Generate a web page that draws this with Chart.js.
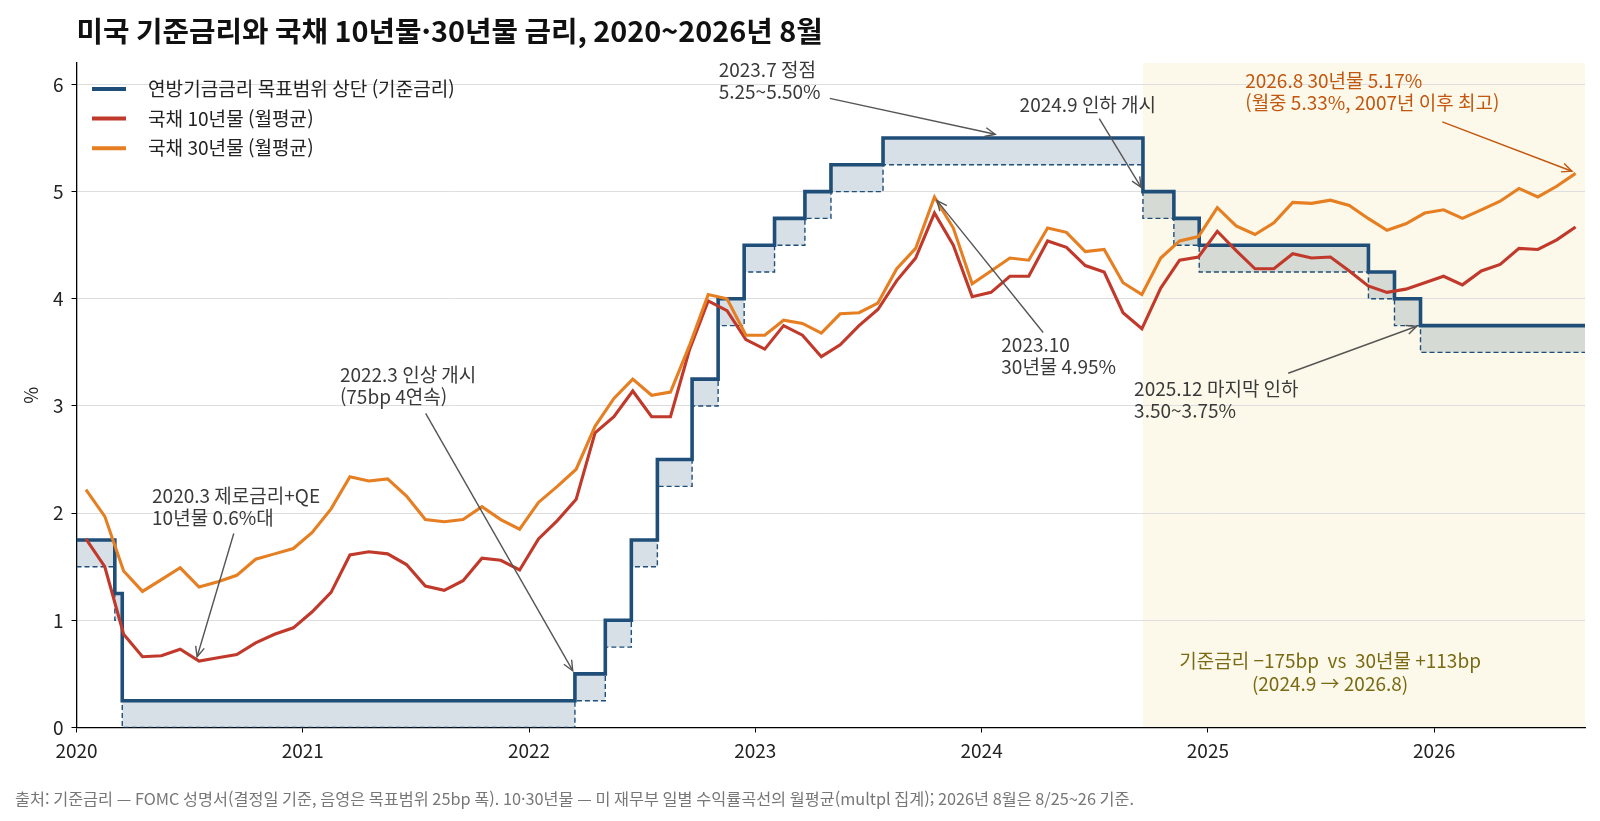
<!DOCTYPE html>
<html lang="ko">
<head>
<meta charset="utf-8">
<title>미국 기준금리와 국채 10년물·30년물 금리</title>
<script src="https://cdn.jsdelivr.net/npm/chart.js@4.4.1/dist/chart.umd.min.js"></script>
<style>
  html, body { margin: 0; padding: 0; background: #fff; }
  #wrap { width: 1600px; height: 821px; }
</style>
</head>
<body>
<div id="wrap"><canvas id="myChart" width="1600" height="821"></canvas></div>
<script>
// FOMC 결정일과 목표범위 상단
const fedDates = ['2020-01-01', '2020-03-03', '2020-03-15', '2022-03-16', '2022-05-04', '2022-06-15',
    '2022-07-27', '2022-09-21', '2022-11-02', '2022-12-14', '2023-02-01', '2023-03-22', '2023-05-03',
    '2023-07-26', '2024-09-18', '2024-11-07', '2024-12-18', '2025-09-17', '2025-10-29', '2025-12-10'];
const fedUpper = [1.75, 1.25, 0.25, 0.50, 1.00, 1.75, 2.50, 3.25, 4.00, 4.50, 4.75, 5.00, 5.25,
    5.50, 5.00, 4.75, 4.50, 4.25, 4.00, 3.75];

// 월평균 (2020.1 ~ 2026.8)
const firstMonth = '2020-01';
const t10 = [
    1.76, 1.50, 0.87, 0.66, 0.67, 0.73, 0.62, 0.65, 0.68, 0.79, 0.87, 0.93,
    1.08, 1.26, 1.61, 1.64, 1.62, 1.52, 1.32, 1.28, 1.37, 1.58, 1.56, 1.47,
    1.76, 1.93, 2.13, 2.75, 2.90, 3.14, 2.90, 2.90, 3.52, 3.98, 3.89, 3.62,
    3.53, 3.75, 3.66, 3.46, 3.57, 3.75, 3.90, 4.17, 4.38, 4.80, 4.50, 4.02,
    4.06, 4.21, 4.21, 4.54, 4.48, 4.31, 4.25, 3.87, 3.72, 4.10, 4.36, 4.39,
    4.63, 4.45, 4.28, 4.28, 4.42, 4.38, 4.39, 4.26, 4.12, 4.06, 4.09, 4.15,
    4.21, 4.13, 4.26, 4.32, 4.47, 4.46, 4.55, 4.67
];
const t30 = [
    2.22, 1.97, 1.46, 1.27, 1.38, 1.49, 1.31, 1.36, 1.42, 1.57, 1.62, 1.67,
    1.82, 2.04, 2.34, 2.30, 2.32, 2.16, 1.94, 1.92, 1.94, 2.06, 1.94, 1.85,
    2.10, 2.25, 2.41, 2.81, 3.07, 3.25, 3.10, 3.13, 3.56, 4.04, 4.00, 3.66,
    3.66, 3.80, 3.77, 3.68, 3.86, 3.87, 3.96, 4.28, 4.47, 4.95, 4.66, 4.14,
    4.26, 4.38, 4.36, 4.66, 4.62, 4.44, 4.46, 4.15, 4.04, 4.38, 4.54, 4.58,
    4.85, 4.68, 4.60, 4.71, 4.90, 4.89, 4.92, 4.87, 4.75, 4.64, 4.70, 4.80,
    4.83, 4.75, 4.83, 4.91, 5.03, 4.95, 5.05, 5.17
];

const xMin = 2020, xMax = 2026 + 8 / 12;
const yearTicks = [2020, 2021, 2022, 2023, 2024, 2025, 2026];
const yTicks = [0, 1, 2, 3, 4, 5, 6];
const cutStart = '2024-09-18';

const BLUE = '#1f4e79', RED = '#c0392b', ORANGE = '#e67e22';
const FONT = "'Noto Sans CJK KR', 'Noto Sans', sans-serif";

function decYear(s) {
    const d = new Date(s + 'T00:00:00Z');
    const y = d.getUTCFullYear();
    const start = Date.UTC(y, 0, 1), end = Date.UTC(y + 1, 0, 1);
    return y + (d.getTime() - start) / (end - start);
}

const y0 = parseInt(firstMonth.slice(0, 4)), m0 = parseInt(firstMonth.slice(5)) - 1;
const monthX = t10.map((v, i) => y0 + (m0 + i + 0.5) / 12);

const upperPts = fedDates.map((d, i) => ({ x: decYear(d), y: fedUpper[i] }));
upperPts.push({ x: xMax, y: fedUpper[fedUpper.length - 1] });
const lowerPts = upperPts.map(p => ({ x: p.x, y: Math.max(0, p.y - 0.25) }));

// 주석 (데이터 좌표)
const notes = [
    { lines: ['2020.3 제로금리+QE', '10년물 0.6%대'], at: [2020.334, 2.16], from: [2020.695, 1.81], to: [2020.533, 0.66] },
    { lines: ['2022.3 인상 개시', '(75bp 4연속)'], at: [2021.164, 3.29], from: [2021.543, 2.93], to: [2022.193, 0.53] },
    { lines: ['2023.7 정점', '5.25~5.50%'], at: [2022.838, 6.135], from: [2023.329, 5.87], to: [2024.06, 5.535] },
    { lines: ['2024.9 인하 개시'], at: [2024.168, 5.81], from: [2024.52, 5.68], to: [2024.705, 5.04] },
    { lines: ['2023.10', '30년물 4.95%'], at: [2024.087, 3.57], from: [2024.272, 3.686], to: [2023.803, 4.916] },
    { lines: ['2025.12 마지막 인하', '3.50~3.75%'], at: [2024.674, 3.16], from: [2025.355, 3.305], to: [2025.923, 3.744] },
    { lines: ['2026.8 30년물 5.17%', '(월중 5.33%, 2007년 이후 최고)'], at: [2025.165, 6.03], from: [2026.036, 5.65], to: [2026.609, 5.19], color: '#c2570f' }
];

function arrow(ctx, x1, y1, x2, y2, color) {
    ctx.save();
    ctx.strokeStyle = color;
    ctx.lineWidth = 1.4;
    ctx.beginPath();
    ctx.moveTo(x1, y1);
    ctx.lineTo(x2, y2);
    ctx.stroke();
    const a = Math.atan2(y2 - y1, x2 - x1), L = 11, w = 0.42;
    ctx.beginPath();
    ctx.moveTo(x2 - L * Math.cos(a - w), y2 - L * Math.sin(a - w));
    ctx.lineTo(x2, y2);
    ctx.lineTo(x2 - L * Math.cos(a + w), y2 - L * Math.sin(a + w));
    ctx.stroke();
    ctx.restore();
}

const decor = {
    id: 'decor',
    beforeDraw(chart) {
        const { ctx, chartArea, scales } = chart;
        const x1 = scales.x.getPixelForValue(decYear(cutStart));
        ctx.save();
        ctx.fillStyle = '#fdf9ea';
        ctx.fillRect(x1, chartArea.top, chartArea.right - x1, chartArea.bottom - chartArea.top);
        ctx.restore();
    },
    afterDraw(chart) {
        const { ctx, chartArea, scales } = chart;
        const px = v => scales.x.getPixelForValue(v);
        const py = v => scales.y.getPixelForValue(v);
        ctx.save();

        // 제목
        ctx.fillStyle = '#111';
        ctx.font = 'bold 28.8px ' + FONT;
        ctx.textBaseline = 'middle';
        ctx.textAlign = 'left';
        ctx.fillText('미국 기준금리와 국채 10년물·30년물 금리, 2020~2026년 8월', chartArea.left, 31);

        // y축 제목
        ctx.save();
        ctx.translate(31, (chartArea.top + chartArea.bottom) / 2);
        ctx.rotate(-Math.PI / 2);
        ctx.textAlign = 'center';
        ctx.font = '18.5px ' + FONT;
        ctx.fillStyle = '#222';
        ctx.fillText('%', 0, 0);
        ctx.restore();

        // 범례
        const legend = [
            ['연방기금금리 목표범위 상단 (기준금리)', BLUE],
            ['국채 10년물 (월평균)', RED],
            ['국채 30년물 (월평균)', ORANGE]
        ];
        ctx.font = '19.1px ' + FONT;
        legend.forEach(([label, color], i) => {
            const yy = 89 + i * 29.6;
            ctx.strokeStyle = color;
            ctx.lineWidth = 4;
            ctx.beginPath();
            ctx.moveTo(92, yy);
            ctx.lineTo(126, yy);
            ctx.stroke();
            ctx.fillStyle = '#222';
            ctx.fillText(label, 148, yy);
        });

        // 주석
        ctx.font = '19px ' + FONT;
        notes.forEach(n => {
            const c = n.color || '#3a3a3a';
            ctx.fillStyle = c;
            ctx.textAlign = 'left';
            n.lines.forEach((t, i) => ctx.fillText(t, px(n.at[0]), py(n.at[1]) + i * 22));
            arrow(ctx, px(n.from[0]), py(n.from[1]), px(n.to[0]), py(n.to[1]), n.color || '#555');
        });

        ctx.fillStyle = '#7a6a14';
        ctx.textAlign = 'center';
        ctx.fillText('기준금리 −175bp  vs  30년물 +113bp', px(2025.54), py(0.62));
        ctx.fillText('(2024.9 → 2026.8)', px(2025.54), py(0.62) + 22.5);

        // 출처
        ctx.textAlign = 'left';
        ctx.fillStyle = '#777';
        ctx.font = '16.3px ' + FONT;
        ctx.fillText('출처: 기준금리 — FOMC 성명서(결정일 기준, 음영은 목표범위 25bp 폭). 10·30년물 — 미 재무부 일별 수익률곡선의 월평균(multpl 집계); 2026년 8월은 8/25~26 기준.', 15, 799);
        ctx.restore();
    }
};

Chart.defaults.font.family = FONT;
Chart.defaults.color = '#222';

const ctx = document.getElementById('myChart').getContext('2d');
const myChart = new Chart(ctx, {
    type: 'line',
    data: {
        datasets: [
            {
                label: '연방기금금리 목표범위 상단 (기준금리)',
                data: upperPts,
                stepped: true,
                borderColor: BLUE,
                borderWidth: 3.6,
                pointRadius: 0,
                fill: false,
                order: 3
            },
            {
                label: '하단',
                data: lowerPts,
                stepped: true,
                borderColor: BLUE,
                borderWidth: 1.4,
                borderDash: [5, 3],
                pointRadius: 0,
                backgroundColor: 'rgba(31, 78, 121, 0.18)',
                fill: '-1',
                order: 4
            },
            {
                label: '국채 10년물 (월평균)',
                data: monthX.map((x, i) => ({ x: x, y: t10[i] })),
                borderColor: RED,
                borderWidth: 3.1,
                pointRadius: 0,
                fill: false,
                order: 2
            },
            {
                label: '국채 30년물 (월평균)',
                data: monthX.map((x, i) => ({ x: x, y: t30[i] })),
                borderColor: ORANGE,
                borderWidth: 3.1,
                pointRadius: 0,
                fill: false,
                order: 1
            }
        ]
    },
    options: {
        responsive: false,
        animation: false,
        layout: { padding: { left: 0, right: 15, top: 63, bottom: 0 } },
        plugins: {
            legend: { display: false },
            tooltip: { enabled: false },
            filler: { propagate: false }
        },
        scales: {
            x: {
                type: 'linear',
                min: xMin,
                max: xMax,
                afterBuildTicks: s => { s.ticks = yearTicks.map(v => ({ value: v })); },
                afterFit: s => { s.height = 821 - 727.5; },
                ticks: { font: { size: 19 }, color: '#222', padding: 7, callback: v => String(v) },
                grid: { drawOnChartArea: false, drawTicks: true, tickLength: 5, tickColor: '#000' },
                border: { color: '#000', width: 1.3 }
            },
            y: {
                min: 0,
                max: 6.2,
                afterBuildTicks: s => { s.ticks = yTicks.map(v => ({ value: v })); },
                afterFit: s => { s.width = 76.5; },
                ticks: { font: { size: 19 }, color: '#222', padding: 8 },
                grid: { color: '#dedede', lineWidth: 1, tickLength: 5, tickColor: '#000' },
                border: { color: '#000', width: 1.3 }
            }
        }
    },
    plugins: [decor]
});
</script>
</body>
</html>
